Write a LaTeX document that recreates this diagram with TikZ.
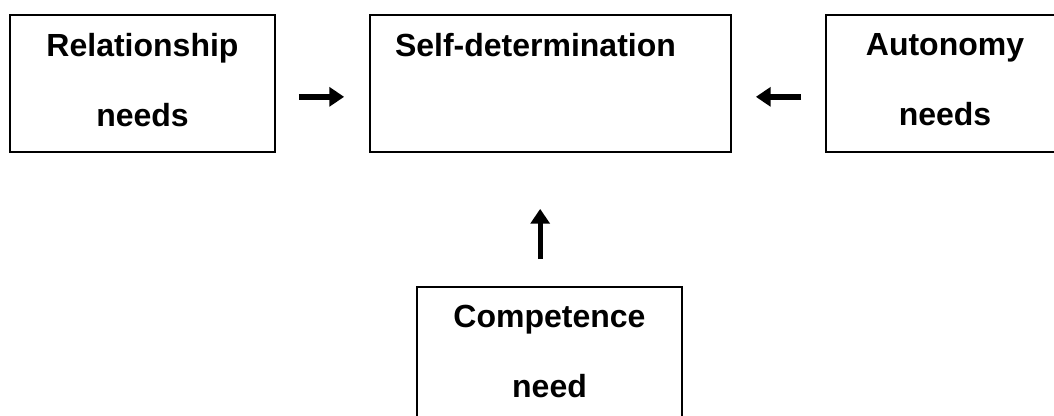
\documentclass[tikz,border=0pt]{standalone}
\usepackage{fontspec}
\setmainfont{Liberation Sans}
\usetikzlibrary{positioning,arrows.meta}

\begin{document}
\begin{tikzpicture}[x=0.75pt,y=-0.75pt,
                     need box/.style={rectangle,draw,line width=1.3pt,minimum height=102.75pt,
                       align=center,inner sep=0pt,font=\fontsize{24}{52.5}\selectfont\bfseries},
                     push/.style={line width=4pt,-{Triangle[length=11pt,width=14pt]}}
                    ]
   \useasboundingbox (0,0) rectangle (1054,415);
   \clip (0,0) rectangle (1054,415);
   \node[need box,minimum width=198.75pt] (rel) at (142.5,83.5) {Relationship\\needs\rule[-6pt]{0pt}{0pt}};
   \node[need box,align=left,text width=233.25pt,inner xsep=18.75pt] (self) at (550.5,83.5) {Self-determination\\\rule[-6pt]{0pt}{0pt}};
   \node[need box,minimum width=178.5pt] (aut) at (945,83.5) {Autonomy\\needs\rule[-6pt]{0pt}{0pt}};
   \node[need box,minimum width=198.75pt] (comp) at (549.5,355.5) {Competence\\need\rule[-6pt]{0pt}{0pt}};
   \path%
     ([yshift=-10pt]rel.east) edge [push,shorten <=17.25pt,shorten >=18.75pt] ([yshift=-10pt]self.west)
     ([yshift=-10pt]aut.west) edge [push,shorten <=18pt,shorten >=18pt] ([yshift=-10pt]self.east)
     ([xshift=-7pt]comp.north) edge [push,shorten <=20.25pt,shorten >=42pt] ([xshift=-7pt]comp.north |- self.south); % arrows stop short of the boxes
 \end{tikzpicture}
\end{document}
